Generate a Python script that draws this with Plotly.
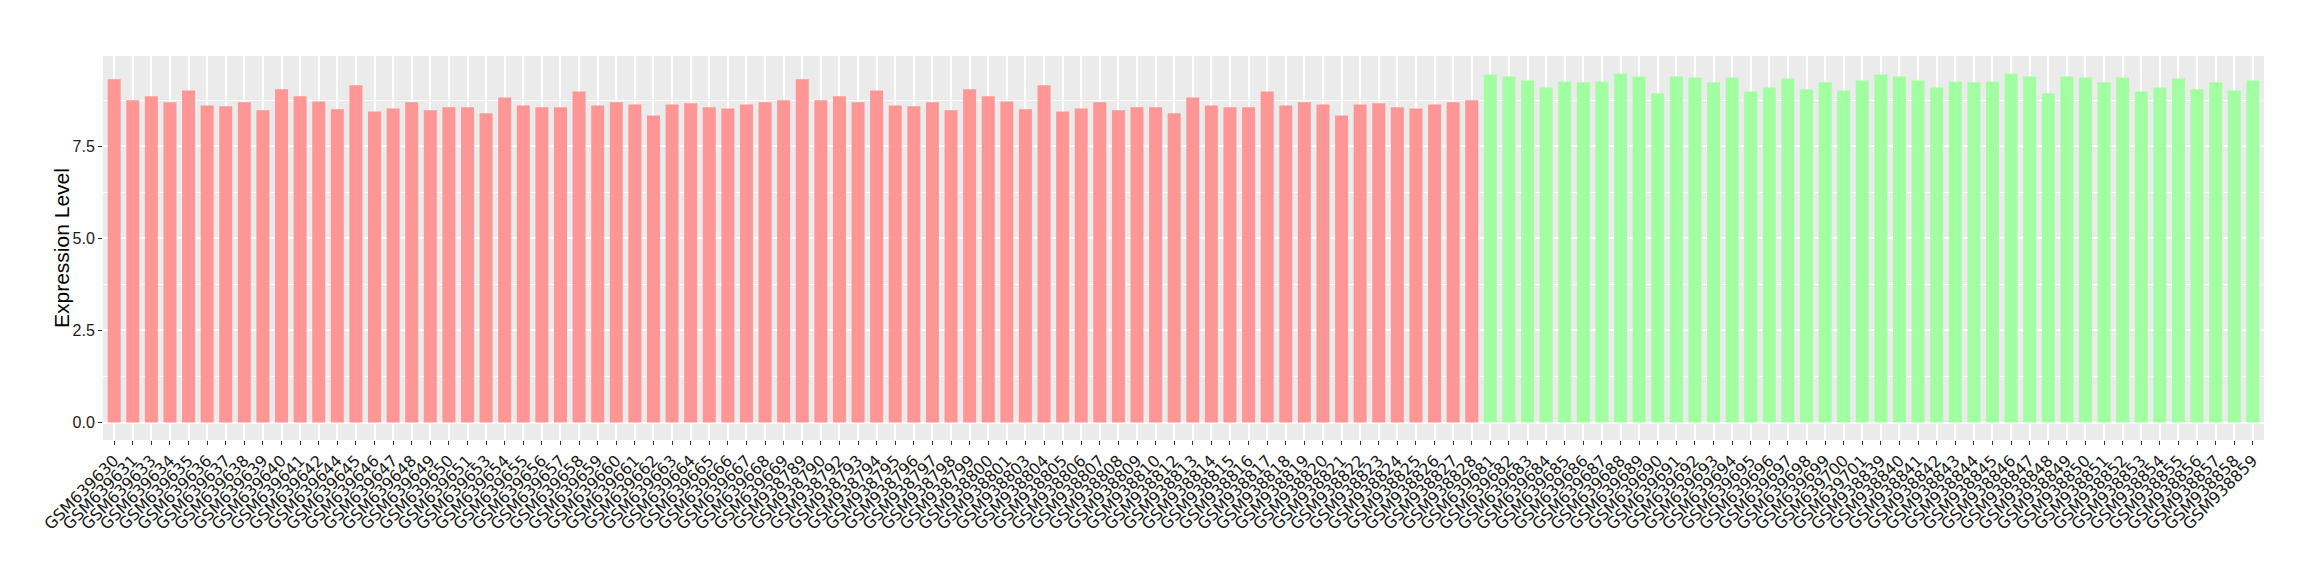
import plotly.graph_objects as go

# ---- data ----
normal_samples = (
    ["GSM6396%02d" % i for i in [30, 31, 33, 34, 35, 36, 37, 38, 39, 40, 41, 42, 44, 45, 46, 47, 48, 49,
                                 50, 51, 53, 54, 55, 56, 57, 58, 59, 60, 61, 62, 63, 64, 65, 66, 67, 68, 69]]
    + ["GSM938%03d" % i for i in [789, 790, 792, 793, 794, 795, 796, 797, 798, 799, 800, 801, 803, 804, 805,
                                  806, 807, 808, 809, 810, 812, 813, 814, 815, 816, 817, 818, 819, 820, 821,
                                  822, 823, 824, 825, 826, 827, 828]]
)
normal_values = [
    9.32, 8.75, 8.86, 8.70, 9.02, 8.61, 8.59, 8.70, 8.48, 9.05, 8.86, 8.72, 8.51, 9.16, 8.45, 8.53, 8.70,
    8.48, 8.56, 8.56, 8.40, 8.83, 8.61, 8.56, 8.56, 8.99, 8.61, 8.70, 8.64, 8.34, 8.64, 8.67, 8.56, 8.53,
    8.64, 8.70, 8.75,
    9.32, 8.75, 8.86, 8.70, 9.02, 8.61, 8.59, 8.70, 8.48, 9.05, 8.86, 8.72, 8.51, 9.16, 8.45, 8.53, 8.70,
    8.48, 8.56, 8.56, 8.40, 8.83, 8.61, 8.56, 8.56, 8.99, 8.61, 8.70, 8.64, 8.34, 8.64, 8.67, 8.56, 8.53,
    8.64, 8.70, 8.75,
]

tumor_samples = (
    ["GSM639%03d" % i for i in range(681, 702)]
    + ["GSM938%03d" % i for i in range(839, 860)]
)
tumor_values = [
    9.45, 9.40, 9.29, 9.10, 9.26, 9.24, 9.26, 9.48, 9.40, 8.94, 9.40, 9.37, 9.24, 9.37, 8.99, 9.10, 9.34,
    9.05, 9.24, 9.02, 9.29,
    9.45, 9.40, 9.29, 9.10, 9.26, 9.24, 9.26, 9.48, 9.40, 8.94, 9.40, 9.37, 9.24, 9.37, 8.99, 9.10, 9.34,
    9.05, 9.24, 9.02, 9.29,
]

y_ticks = [0.0, 2.5, 5.0, 7.5]
y_tick_labels = ["0.0", "2.5", "5.0", "7.5"]
y_title = "Expression Level"

categories = normal_samples + tumor_samples
ymax = max(normal_values + tumor_values)

fig = go.Figure()
fig.add_trace(go.Bar(x=normal_samples, y=normal_values, marker=dict(color="#FF9696", line=dict(width=0)),
                     showlegend=False))
fig.add_trace(go.Bar(x=tumor_samples, y=tumor_values, marker=dict(color="#A1FFA1", line=dict(width=0)),
                     showlegend=False))

fig.update_layout(
    width=2320, height=580,
    margin=dict(l=95, r=64, t=48, b=148, autoexpand=False),
    paper_bgcolor="white",
    plot_bgcolor="#EBEBEB",
    barmode="overlay",
    bargap=0.3,
    xaxis=dict(
        type="category",
        categoryorder="array",
        categoryarray=categories,
        tickmode="array",
        tickvals=categories,
        ticktext=categories,
        range=[-0.6, len(categories) - 0.4],
        tickangle=-45,
        automargin=False,
        tickfont=dict(family="DejaVu Sans", size=16, color="#1a1a1a"),
        showgrid=True, gridcolor="white", gridwidth=1.6,
        ticks="outside", ticklen=4, tickcolor="#333333", tickwidth=1,
        showline=False, zeroline=False,
    ),
    yaxis=dict(
        range=[-0.05 * ymax, ymax * 1.05],
        tickmode="array",
        tickvals=y_ticks,
        ticktext=y_tick_labels,
        automargin=False,
        tickfont=dict(family="Liberation Sans", size=16, color="#1a1a1a"),
        showgrid=True, gridcolor="white", gridwidth=1.6,
        minor=dict(showgrid=True, tick0=0, dtick=1.25, gridcolor="white", gridwidth=0.8),
        ticks="outside", ticklen=4, tickcolor="#333333", tickwidth=1,
        zeroline=False, showline=False,
    ),
    annotations=[dict(
        text=y_title, textangle=-90, xref="paper", yref="paper", x=0, y=0.5,
        xanchor="center", yanchor="middle", xshift=-42, showarrow=False,
        font=dict(family="Liberation Sans", size=21, color="black"),
    )],
)

fig.write_html("out.html")
